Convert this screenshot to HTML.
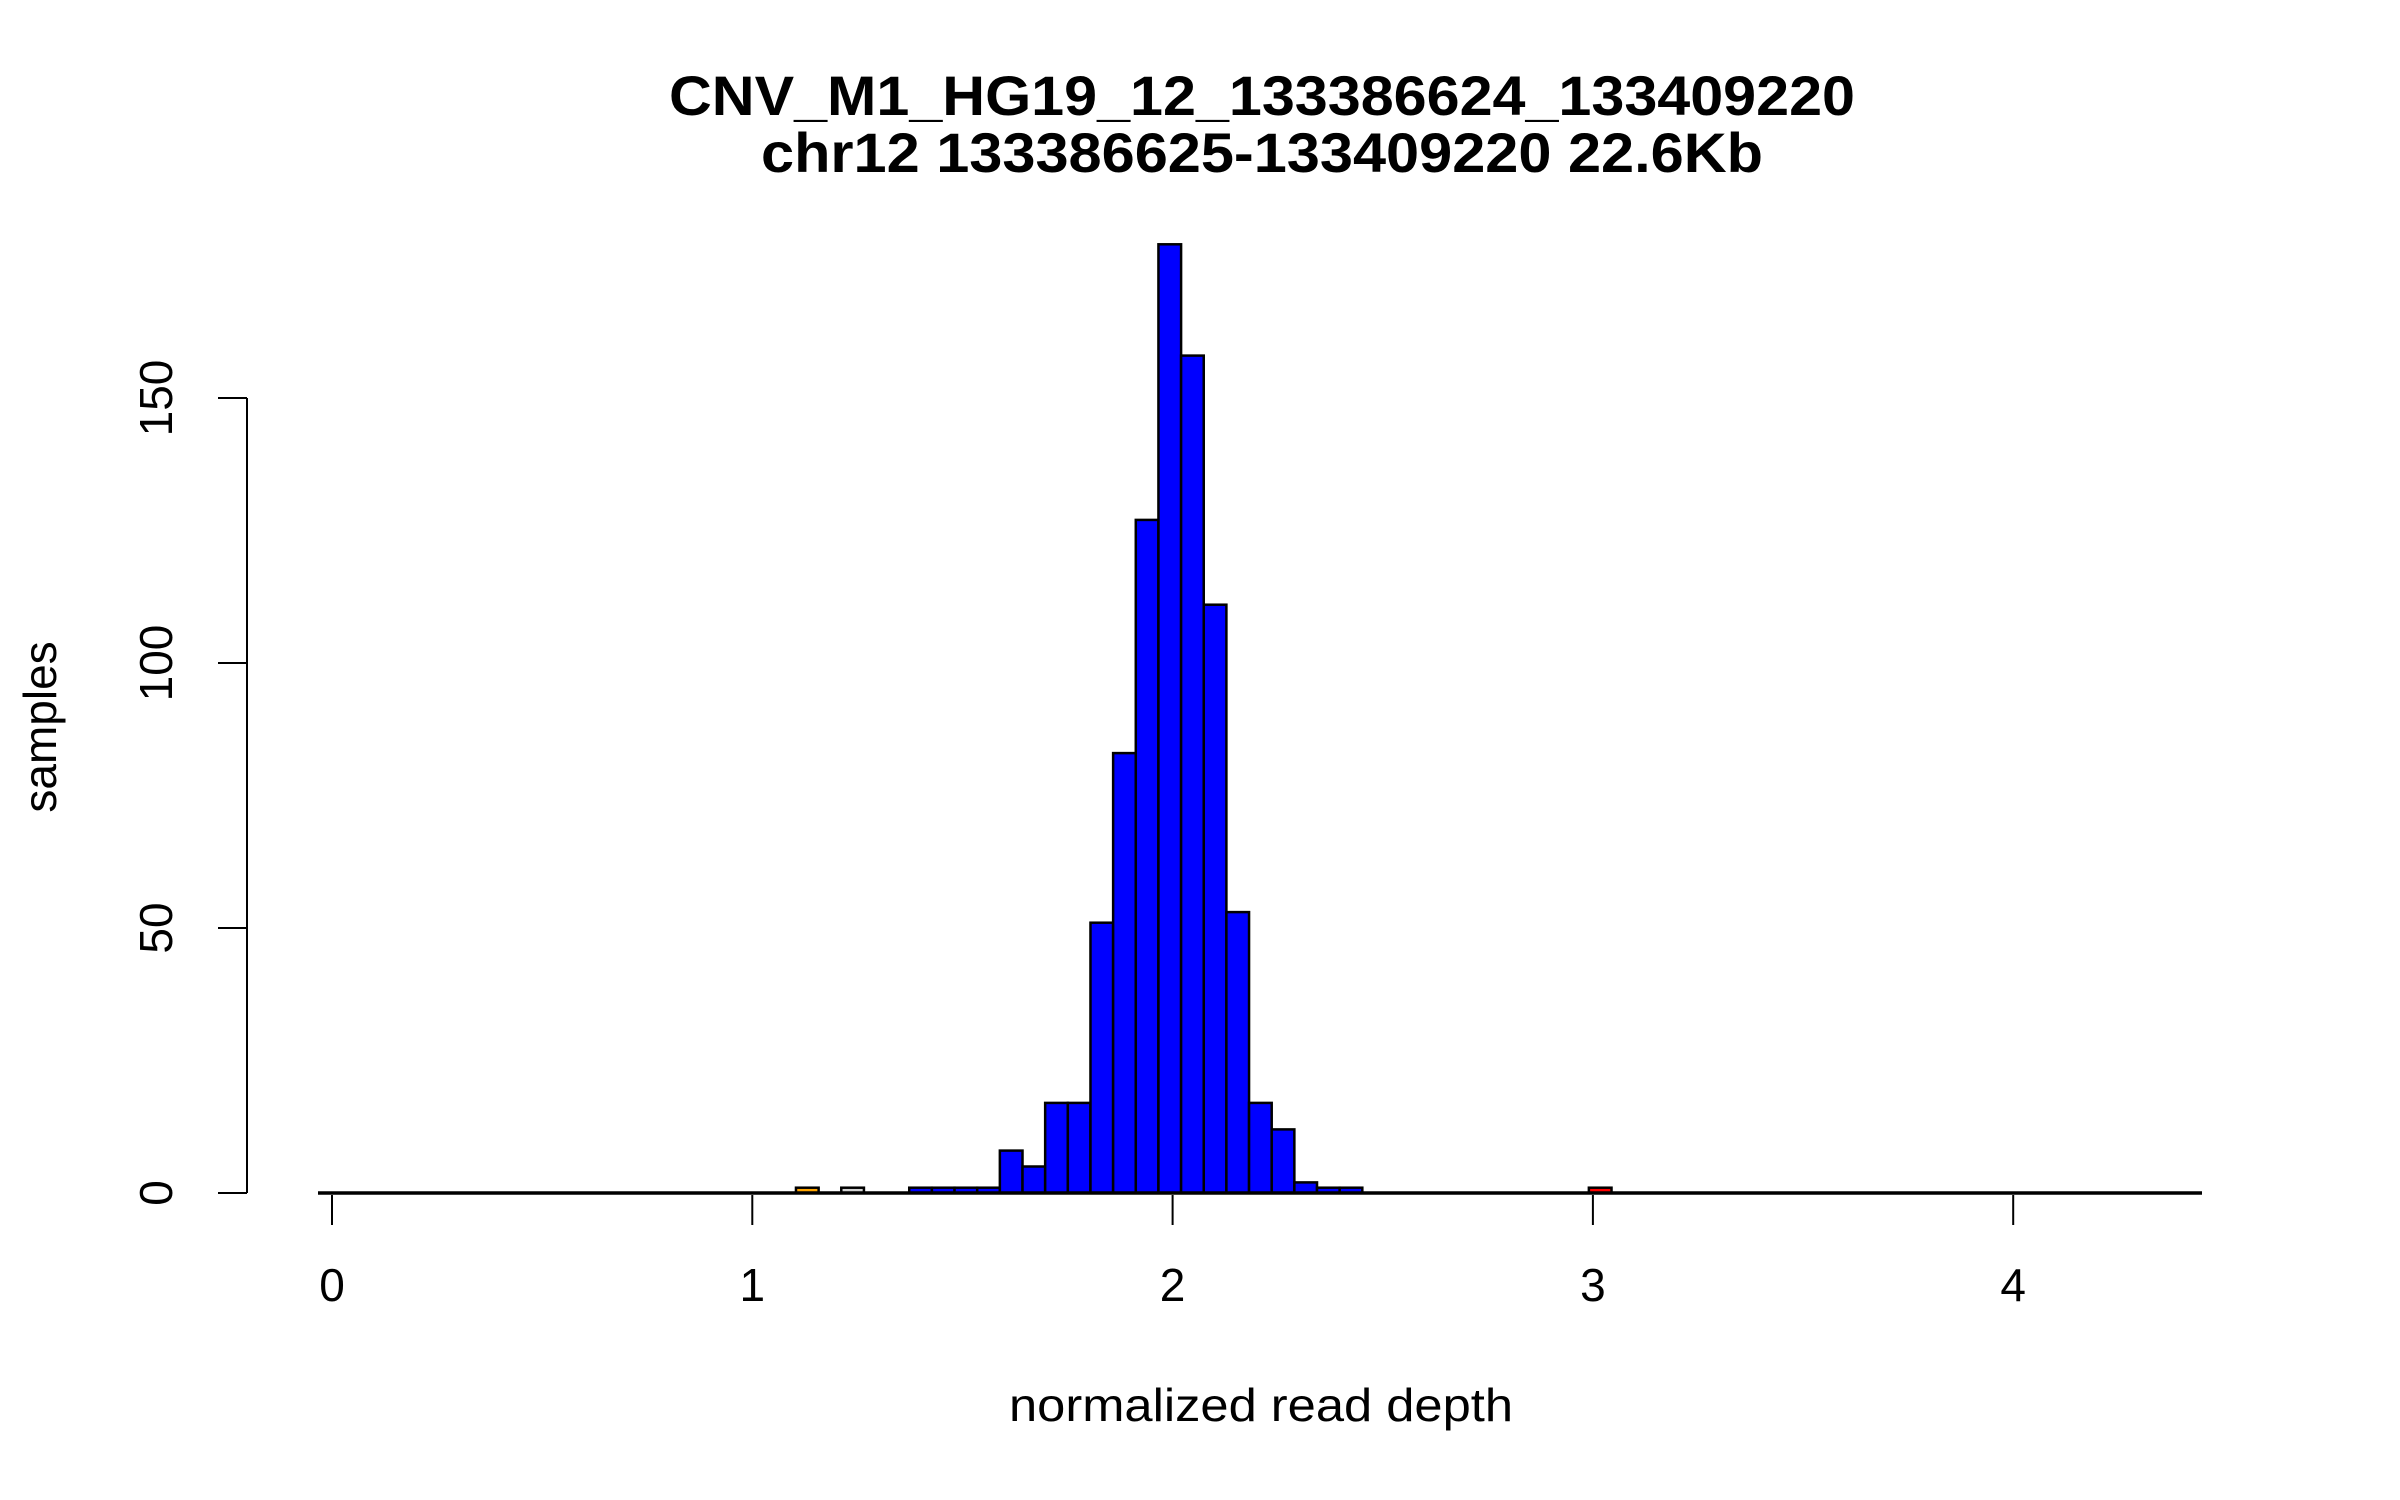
<!DOCTYPE html>
<html><head><meta charset="utf-8"><style>
html,body{margin:0;padding:0;background:#fff;}
svg{display:block;}
text{font-family:"Liberation Sans",sans-serif;fill:#000;}
</style></head><body>
<svg id="chart" width="2400" height="1500" viewBox="0 0 2400 1500" xmlns="http://www.w3.org/2000/svg">
<text x="1262" y="115" text-anchor="middle" font-weight="bold" font-size="56" textLength="1186" lengthAdjust="spacingAndGlyphs">CNV_M1_HG19_12_133386624_133409220</text>
<text x="1262" y="172" text-anchor="middle" font-weight="bold" font-size="56" textLength="1002" lengthAdjust="spacingAndGlyphs">chr12 133386625-133409220 22.6Kb</text>
<text x="1261" y="1421" text-anchor="middle" font-size="46" textLength="504" lengthAdjust="spacingAndGlyphs">normalized read depth</text>
<text transform="translate(56,727) rotate(-90)" text-anchor="middle" font-size="46">samples</text>
<g id="bars"></g>
<g id="axes"></g>
</svg>
<script>
// bin index (relative to first edge 1.589, width 0.0539), counts, colors
const binIndex = [-9, -7, -4, -3, -2, -1, 0, 1, 2, 3, 4, 5, 6, 7, 8, 9, 10, 11, 12, 13, 14, 15, 26];
const counts   = [1, 1, 1, 1, 1, 1, 8, 5, 17, 17, 51, 83, 127, 179, 158, 111, 53, 17, 12, 2, 1, 1, 1];
const barColors = ["#ffa500","#d3d3d3","#0000ff","#0000ff","#0000ff","#0000ff","#0000ff","#0000ff","#0000ff","#0000ff","#0000ff","#0000ff","#0000ff","#0000ff","#0000ff","#0000ff","#0000ff","#0000ff","#0000ff","#0000ff","#0000ff","#0000ff","#ff0000"];
const binStart = 1.589;
const binWidth = 0.0539;
const xTicks = [0, 1, 2, 3, 4];
const yTicks = [0, 50, 100, 150];

const NS = "http://www.w3.org/2000/svg";
function xs(v){ return 332 + v * 420.3; }
function ys(v){ return 1193 - v * 5.3; }
const bars = document.getElementById("bars");
const axes = document.getElementById("axes");

binIndex.forEach((b, i) => {
  const x0 = xs(binStart + b * binWidth), x1 = xs(binStart + (b + 1) * binWidth);
  const r = document.createElementNS(NS, "rect");
  r.setAttribute("x", x0); r.setAttribute("y", ys(counts[i]));
  r.setAttribute("width", x1 - x0); r.setAttribute("height", ys(0) - ys(counts[i]));
  r.setAttribute("fill", barColors[i]); r.setAttribute("stroke", "#000"); r.setAttribute("stroke-width", "2.5");
  
  
  bars.appendChild(r);
});

const base = document.createElementNS(NS, "line");
base.setAttribute("x1", 318); base.setAttribute("x2", 2202);
base.setAttribute("y1", ys(0)); base.setAttribute("y2", ys(0));
base.setAttribute("stroke", "#000"); base.setAttribute("stroke-width", "3.5");


axes.appendChild(base);

xTicks.forEach(t => {
  const l = document.createElementNS(NS, "line");
  l.setAttribute("x1", xs(t)); l.setAttribute("x2", xs(t));
  l.setAttribute("y1", 1195); l.setAttribute("y2", 1225);
  l.setAttribute("stroke", "#000"); l.setAttribute("stroke-width", "2");
  
  
  axes.appendChild(l);
  const tx = document.createElementNS(NS, "text");
  tx.setAttribute("x", xs(t)); tx.setAttribute("y", 1301);
  tx.setAttribute("text-anchor", "middle"); tx.setAttribute("font-size", "46");
  tx.textContent = t;
  
  
  axes.appendChild(tx);
});

const yl = document.createElementNS(NS, "line");
yl.setAttribute("x1", 247); yl.setAttribute("x2", 247);
yl.setAttribute("y1", ys(yTicks[yTicks.length - 1])); yl.setAttribute("y2", ys(0));
yl.setAttribute("stroke", "#000"); yl.setAttribute("stroke-width", "2");


axes.appendChild(yl);

yTicks.forEach(t => {
  const l = document.createElementNS(NS, "line");
  l.setAttribute("x1", 218); l.setAttribute("x2", 247);
  l.setAttribute("y1", ys(t)); l.setAttribute("y2", ys(t));
  l.setAttribute("stroke", "#000"); l.setAttribute("stroke-width", "2");
  
  
  axes.appendChild(l);
  const tx = document.createElementNS(NS, "text");
  tx.setAttribute("transform", "translate(172," + ys(t) + ") rotate(-90)");
  tx.setAttribute("text-anchor", "middle"); tx.setAttribute("font-size", "46");
  tx.textContent = t;
  
  
  axes.appendChild(tx);
});
</script>
</body></html>
